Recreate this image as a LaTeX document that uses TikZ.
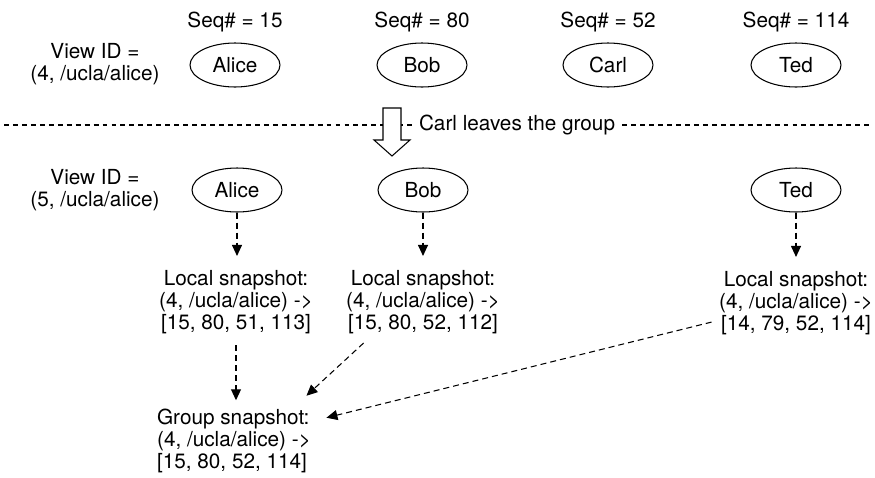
\documentclass[tikz,border=0pt]{standalone}
\usepackage{fontspec}
\setmainfont{TeX Gyre Heros}
\usetikzlibrary{arrows.meta,shapes.geometric}

\begin{document}
\begin{tikzpicture}[x=0.02cm, y=-0.02cm, line width=0.6pt,
    every node/.style={font=\fontsize{11.8}{12.4}\selectfont, inner sep=0pt},
    member/.style={draw, ellipse, minimum width=1.8cm, minimum height=0.88cm},
    flow/.style={-{Triangle[width=0.2cm,length=0.22cm]}, dash pattern=on 3.4pt off 2.3pt}]
    \useasboundingbox (0,0) rectangle (875,477);

    % view 4: all four members
    \node[align=center] (view4) at (95,64) {View ID =\\(4, /ucla/alice)};
    \node[member] (alice4) at (235,65) {Alice};
    \node[member] (bob4) at (422,65) {Bob};
    \node[member] (carl4) at (608,65) {Carl};
    \node[member] (ted4) at (796,65) {Ted};

    \node (seqalice) at (235,22) {Seq\# = 15};
    \node (seqbob) at (422,22) {Seq\# = 80};
    \node (seqcarl) at (608,22) {Seq\# = 52};
    \node (seqted) at (796,22) {Seq\# = 114};

    % membership change
    \draw[dash pattern=on 2.8pt off 2.3pt] (4,125) -- (872,125);
    \draw[fill=white] (383,108) -- (401,108) -- (401,140) -- (410,140)
        -- (392,156) -- (374,140) -- (383,140) -- cycle;
    \node[fill=white, inner xsep=0.1cm, inner ysep=2pt] (leave) at (517,125) {Carl leaves the group};

    % view 5: Carl is gone
    \node[align=center] (view5) at (95,190) {View ID =\\(5, /ucla/alice)};
    \node[member] (alice5) at (237,190) {Alice};
    \node[member] (bob5) at (423,190) {Bob};
    \node[member] (ted5) at (796,190) {Ted};

    \node[align=center] (alicesnap) at (236,302) {Local snapshot:\\(4, /ucla/alice) ->\\{[15, 80, 51, 113]}};
    \node[align=center] (bobsnap) at (423,302) {Local snapshot:\\(4, /ucla/alice) ->\\{[15, 80, 52, 112]}};
    \node[align=center] (tedsnap) at (796,303) {Local snapshot:\\(4, /ucla/alice) ->\\{[14, 79, 52, 114]}};
    \node[align=left] (group) at (234,441) {Group snapshot:\\(4, /ucla/alice) ->\\{[15, 80, 52, 114]}};

    \draw[flow, shorten >=0.28cm] (alice5.south) -- (alice5.south |- alicesnap.north);
    \draw[flow, shorten >=0.28cm] (bob5.south) -- (bob5.south |- bobsnap.north);
    \draw[flow, shorten >=0.28cm] (ted5.south) -- (ted5.south |- tedsnap.north);

    \draw[flow, shorten <=0.22cm, shorten >=0.17cm] (alicesnap.south) -- (alicesnap.south |- group.north);
    \draw[flow] ([shift={(18,9)}]bobsnap.south west) -- ([shift={(-5,-13)}]group.north east);
    \draw[flow] ([shift={(-7,-13)}]tedsnap.south west) -- ([shift={(15,9)}]group.north east);
\end{tikzpicture}
\end{document}
